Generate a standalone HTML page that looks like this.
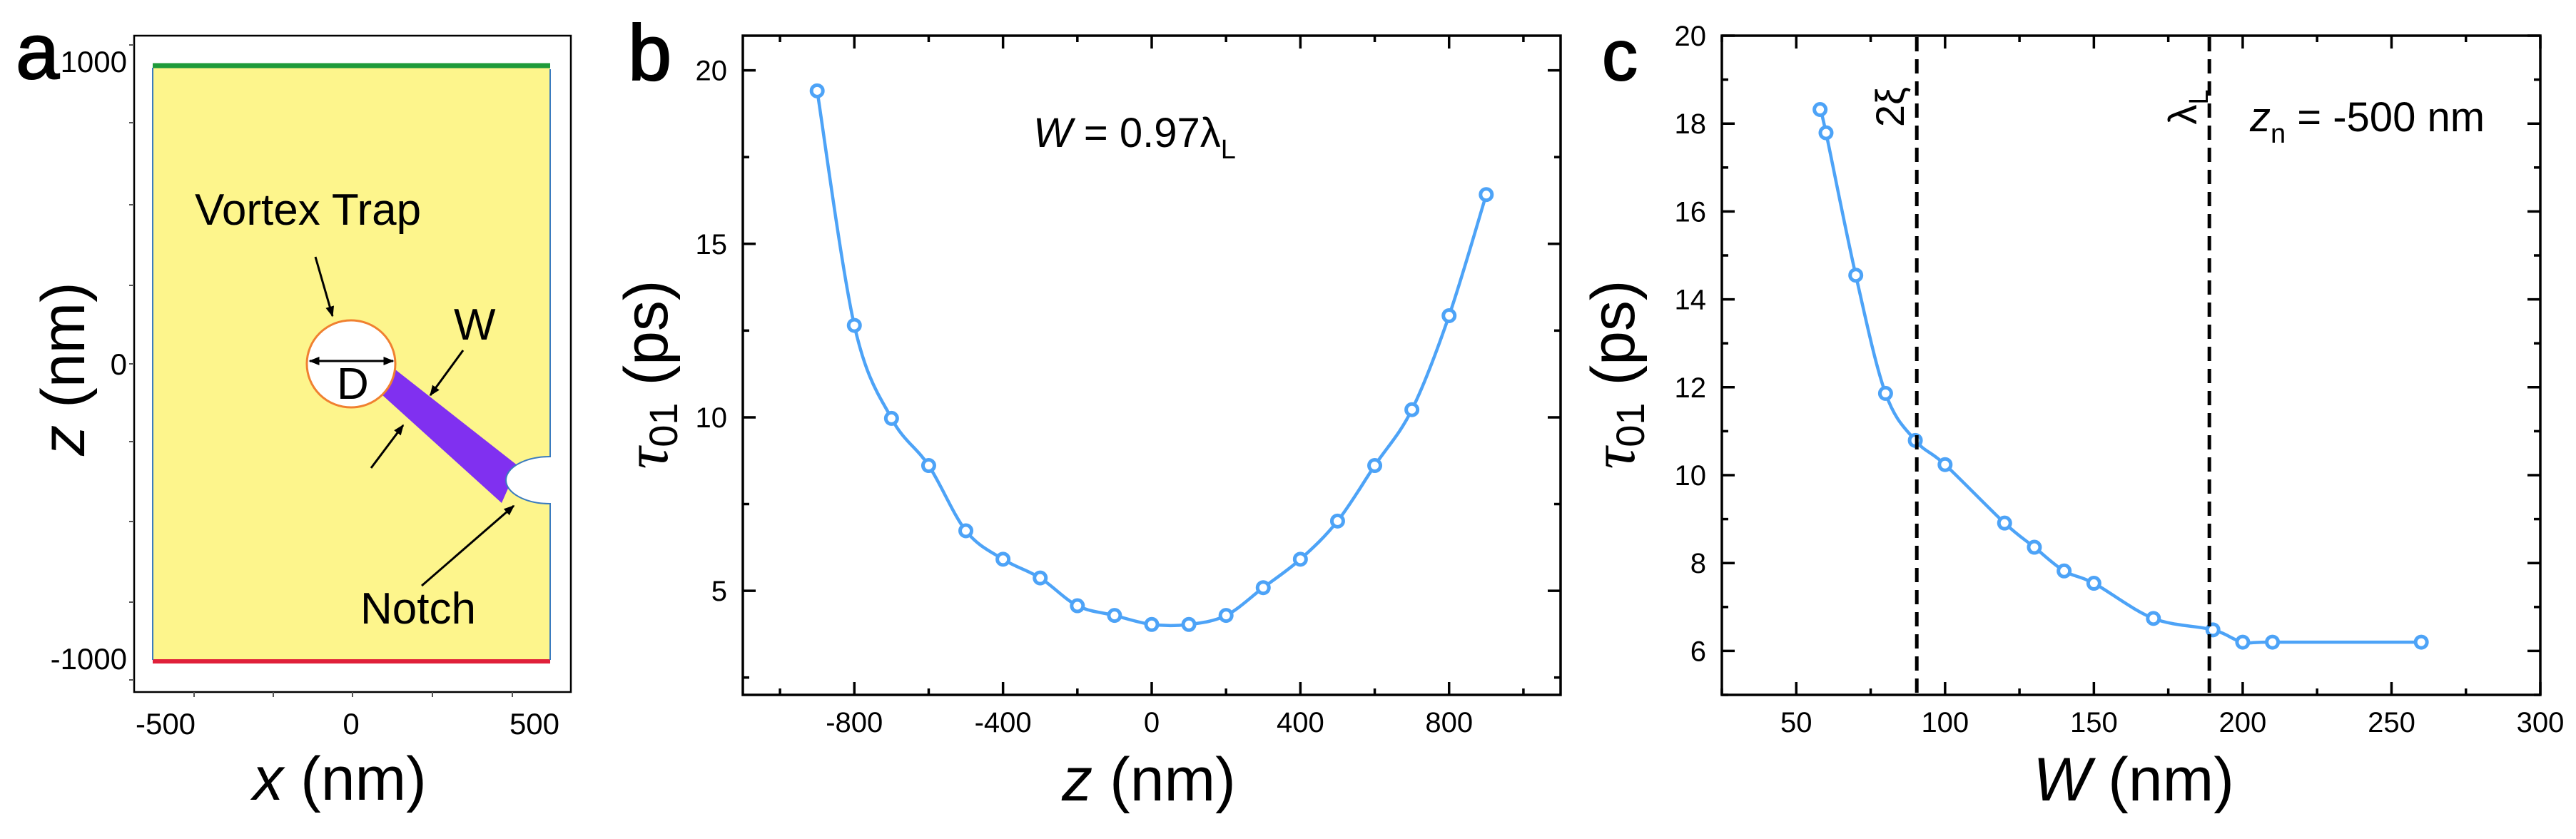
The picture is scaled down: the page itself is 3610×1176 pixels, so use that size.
<!DOCTYPE html>
<html><head><meta charset="utf-8"><style>
html,body{margin:0;padding:0;background:#fff}
svg{display:block}
text{font-family:"Liberation Sans",sans-serif}
</style></head><body>
<svg id="fig" xmlns="http://www.w3.org/2000/svg" width="3610" height="1176" viewBox="0 0 3610 1176">
<defs>
<marker id="ah" viewBox="0 0 10 10" refX="9" refY="5" markerWidth="5" markerHeight="5" orient="auto-start-reverse"><path d="M0,1 L10,5 L0,9 z" fill="#000"/></marker>
</defs>
<g>
<text x="22" y="110" font-size="110" stroke="#000" stroke-width="2">a</text>
<rect x="188" y="50" width="612" height="920" fill="#fff" stroke="#000" stroke-width="2.5"/>
<rect x="214" y="92" width="557" height="836" fill="#fdf58c"/>
<line x1="214" y1="92" x2="771" y2="92" stroke="#1e9a3a" stroke-width="7"/>
<line x1="214" y1="927" x2="771" y2="927" stroke="#e0203a" stroke-width="6"/>
<line x1="214" y1="95" x2="214" y2="925" stroke="#3a7bbf" stroke-width="2"/>
<polygon points="554,518 525,544 703,705 726,653" fill="#8030f0"/>
<path d="M771,640 A62,33 0 0 0 771,706 L775,706 L775,640 Z" fill="#fff" stroke="#3a7bbf" stroke-width="2"/>
<line x1="771" y1="97" x2="771" y2="641" stroke="#3a7bbf" stroke-width="2"/>
<line x1="771" y1="706" x2="771" y2="925" stroke="#3a7bbf" stroke-width="2"/>
<rect x="772" y="95" width="20" height="835" fill="#fff"/>
<ellipse cx="492" cy="510" rx="62" ry="61" fill="#fff" stroke="#f08030" stroke-width="3"/>
<line x1="434" y1="506" x2="551" y2="506" stroke="#000" stroke-width="3" marker-start="url(#ah)" marker-end="url(#ah)"/>
<text x="472" y="559" font-size="62">D</text>
<text x="273" y="315" font-size="62">Vortex Trap</text>
<line x1="442" y1="360" x2="466" y2="443" stroke="#000" stroke-width="3" marker-end="url(#ah)"/>
<text x="636" y="476" font-size="62">W</text>
<line x1="649" y1="491" x2="603" y2="554" stroke="#000" stroke-width="3" marker-end="url(#ah)"/>
<line x1="520" y1="656" x2="565" y2="596" stroke="#000" stroke-width="3" marker-end="url(#ah)"/>
<text x="505" y="874" font-size="62">Notch</text>
<line x1="591" y1="821" x2="720" y2="709" stroke="#000" stroke-width="3" marker-end="url(#ah)"/>
<g id="aticks"></g>
<text x="178" y="101" font-size="42" text-anchor="end">1000</text>
<text x="178" y="525" font-size="42" text-anchor="end">0</text>
<text x="178" y="938" font-size="42" text-anchor="end">-1000</text>
<text x="232" y="1029" font-size="42" text-anchor="middle">-500</text>
<text x="492" y="1029" font-size="42" text-anchor="middle">0</text>
<text x="749" y="1029" font-size="42" text-anchor="middle">500</text>
<text x="476" y="1121" font-size="86" text-anchor="middle"><tspan font-style="italic">x</tspan> (nm)</text>
<text transform="translate(118,517) rotate(-90)" font-size="86" text-anchor="middle"><tspan font-style="italic">z</tspan> (nm)</text>
</g>
<g id="pb">
<text x="880" y="112" font-size="110" stroke="#000" stroke-width="2">b</text>
<text x="1448" y="206" font-size="58"><tspan font-style="italic">W</tspan> = 0.97λ<tspan font-size="38" dy="16">L</tspan></text>
<text x="1610" y="1122" font-size="86" text-anchor="middle"><tspan font-style="italic">z</tspan> (nm)</text>
<text transform="translate(935,525) rotate(-90)" font-size="86" text-anchor="middle"><tspan font-family="Liberation Serif" font-style="italic">τ</tspan><tspan font-size="56" dy="14">01</tspan><tspan dy="-14"> (ps)</tspan></text>
</g>
<g id="pc">
<text x="2245" y="112" font-size="100" stroke="#000" stroke-width="2">c</text>
<text x="3153" y="184" font-size="58"><tspan font-style="italic">z</tspan><tspan font-size="38" dy="16">n</tspan><tspan dy="-16"> = -500 nm</tspan></text>
<text x="2990" y="1122" font-size="86" text-anchor="middle"><tspan font-style="italic">W</tspan> (nm)</text>
<text transform="translate(2290,525) rotate(-90)" font-size="86" text-anchor="middle"><tspan font-family="Liberation Serif" font-style="italic">τ</tspan><tspan font-size="56" dy="14">01</tspan><tspan dy="-14"> (ps)</tspan></text>
</g>
</svg>
<script>
const NS='http://www.w3.org/2000/svg';
// Panel b data
const bZ=[-900,-800,-700,-600,-500,-400,-300,-200,-100,0,100,200,300,400,500,600,700,800,900];
const bTau=[19.41,12.65,9.97,8.61,6.73,5.91,5.37,4.57,4.29,4.03,4.03,4.29,5.09,5.91,7.01,8.61,10.22,12.93,16.42];
const bXTicks=[-800,-400,0,400,800];
const bYTicks=[5,10,15,20];
// Panel c data
const cW=[58,60,70,80,90,100,120,130,140,150,170,190,200,210,260];
const cTau=[18.32,17.79,14.55,11.86,10.79,10.24,8.91,8.36,7.82,7.54,6.74,6.48,6.20,6.20,6.20];
const cXTicks=[50,100,150,200,250,300];
const cYTicks=[6,8,10,12,14,16,18,20];
const cVLines=[90.5,188.8];
const cVLabels=['2ξ','λL'];

function el(tag,attrs,parent){const e=document.createElementNS(NS,tag);for(const k in attrs)e.setAttribute(k,attrs[k]);parent.appendChild(e);return e;}
function spline(pts){let d='M'+pts[0][0]+','+pts[0][1];for(let i=0;i<pts.length-1;i++){const p0=pts[Math.max(i-1,0)],p1=pts[i],p2=pts[i+1],p3=pts[Math.min(i+2,pts.length-1)];const c1=[p1[0]+(p2[0]-p0[0])/6,p1[1]+(p2[1]-p0[1])/6],c2=[p2[0]-(p3[0]-p1[0])/6,p2[1]-(p3[1]-p1[1])/6];d+=' C'+c1+' '+c2+' '+p2;}return d;}

function panel(g,box,xr,yr,xMaj,xMin,yMaj,yMin,xs,ys,pre){
  const sx=v=>box.l+(v-xr[0])/(xr[1]-xr[0])*(box.r-box.l);
  const sy=v=>box.b-(v-yr[0])/(yr[1]-yr[0])*(box.b-box.t);
  const fr=el('rect',{x:box.l,y:box.t,width:box.r-box.l,height:box.b-box.t,fill:'none',stroke:'#000','stroke-width':3.5},g);
  
  
  const tk=[];
  xMin.forEach(v=>tk.push([sx(v),box.b,sx(v),box.b-9],[sx(v),box.t,sx(v),box.t+9]));
  xMaj.forEach(v=>tk.push([sx(v),box.b,sx(v),box.b-18],[sx(v),box.t,sx(v),box.t+18]));
  yMin.forEach(v=>tk.push([box.l,sy(v),box.l+9,sy(v)],[box.r,sy(v),box.r-9,sy(v)]));
  yMaj.forEach(v=>tk.push([box.l,sy(v),box.l+18,sy(v)],[box.r,sy(v),box.r-18,sy(v)]));
  tk.forEach(t=>{const l=el('line',{x1:t[0],y1:t[1],x2:t[2],y2:t[3],stroke:'#000','stroke-width':3.5},g);
    
    });
  xMaj.forEach(v=>{const t=el('text',{x:sx(v),y:box.b+52,'font-size':40,'text-anchor':'middle'},g);t.textContent=v;
    
    });
  yMaj.forEach(v=>{const t=el('text',{x:box.l-22,y:sy(v)+14,'font-size':40,'text-anchor':'end'},g);t.textContent=v;
    
    });
  const pts=xs.map((x,i)=>[sx(x),sy(ys[i])]);
  const p=el('path',{d:spline(pts),fill:'none',stroke:'#4da3f7','stroke-width':4.5},g);
  
  
  pts.forEach(q=>{const c=el('circle',{cx:q[0],cy:q[1],r:8,fill:'#fff',stroke:'#4da3f7','stroke-width':5},g);
    
    });
  return {sx,sy};
}
const range=(a,b,s)=>{const r=[];for(let v=a;v<=b+1e-9;v+=s)r.push(v);return r;};
panel(document.getElementById('pb'),{l:1041,r:2187,t:50,b:974},[-1100,1100],[2,21],bXTicks,[-1000,-600,-200,200,600,1000],bYTicks,[2.5,7.5,12.5,17.5],bZ,bTau,'panel-b');
const gc=document.getElementById('pc');
const c=panel(gc,{l:2413,r:3560,t:50,b:974},[25,300],[5,20],cXTicks,range(25,275,50),cYTicks,range(5,19,2),cW,cTau,'panel-c');
cVLines.forEach((v,i)=>{const l=el('line',{x1:c.sx(v),y1:52,x2:c.sx(v),y2:972,stroke:'#000','stroke-width':5,'stroke-dasharray':'20,11'},gc);
  
  
  const t=el('text',{transform:'translate('+(c.sx(v)-18)+',150) rotate(-90)','font-size':56,'text-anchor':'middle'},gc);
  if(i===1){t.innerHTML='λ<tspan font-size="38" dy="16">L</tspan>';}else{t.textContent=cVLabels[i];}
  
  });
const ga=document.getElementById('aticks');
[63,172,287,400,510,619,731,844,953].forEach(y=>{const l=el('line',{x1:188,y1:y,x2:181,y2:y,stroke:'#555','stroke-width':2},ga);
  
  });
[272,383,494,606,718].forEach(x=>{const l=el('line',{x1:x,y1:970,x2:x,y2:977,stroke:'#555','stroke-width':2},ga);
  
  });
</script>
</body></html>
